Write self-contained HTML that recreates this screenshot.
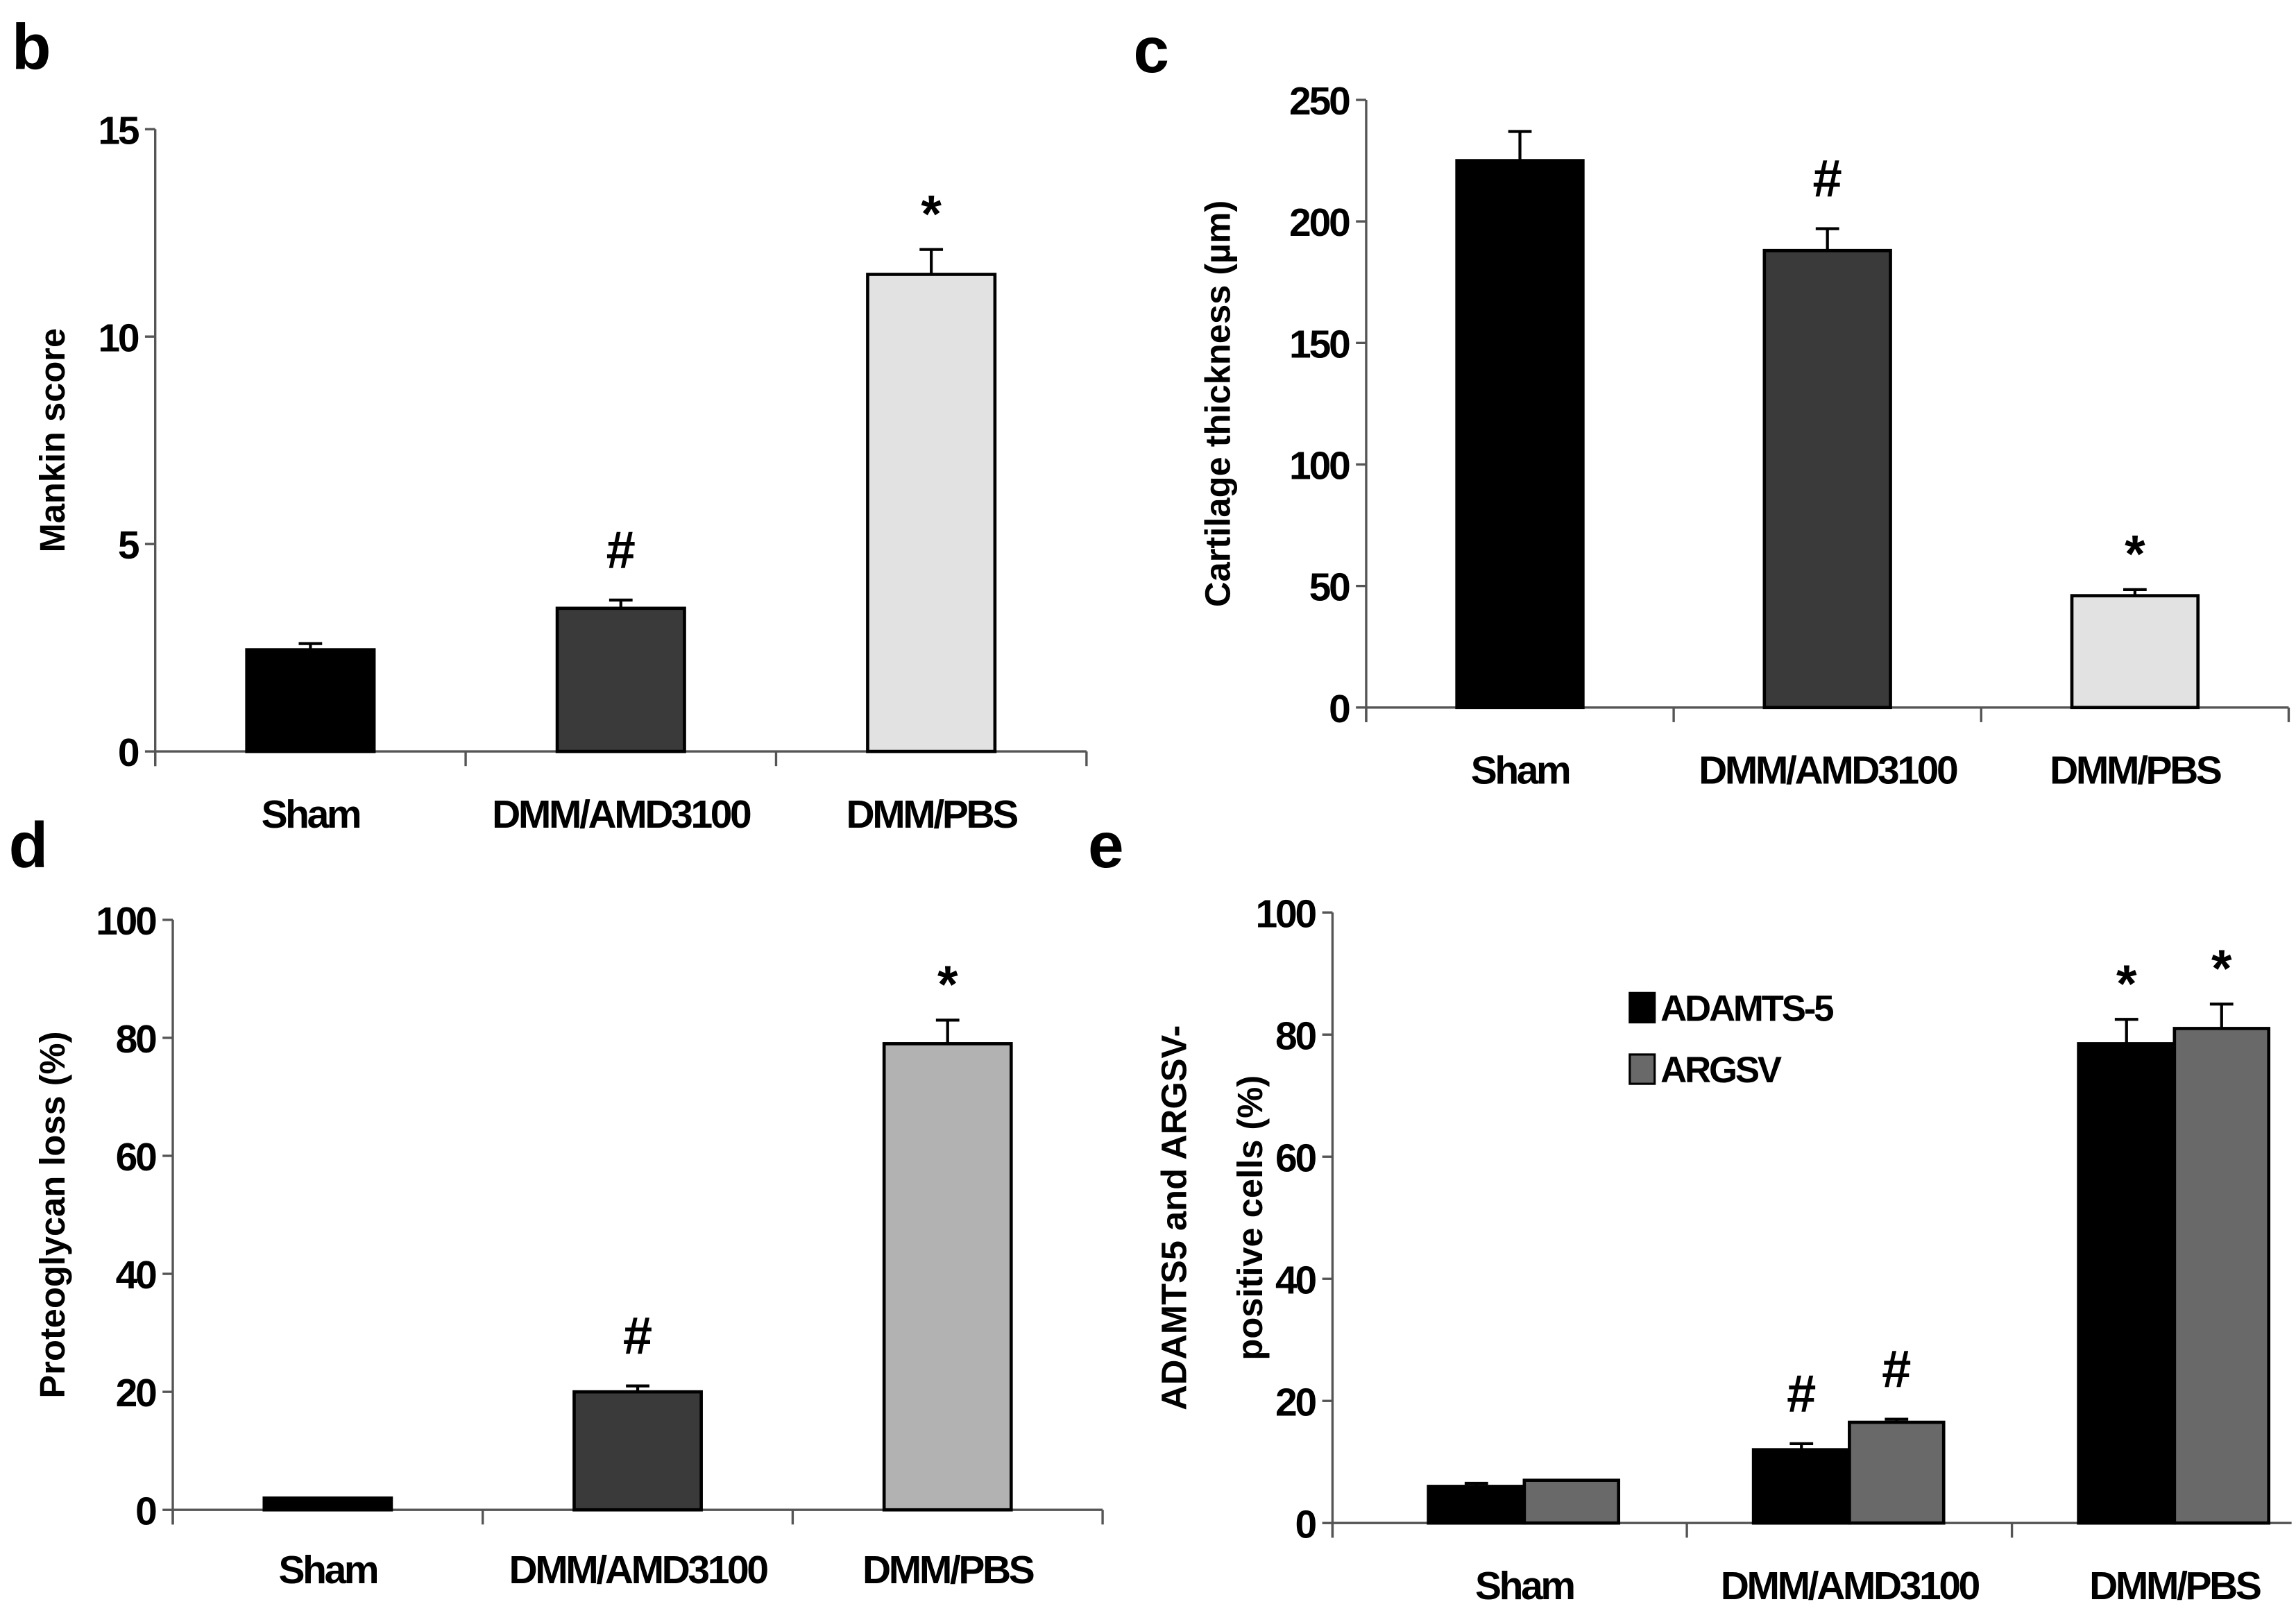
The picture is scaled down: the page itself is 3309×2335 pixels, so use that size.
<!DOCTYPE html>
<html><head><meta charset="utf-8">
<style>
html,body{margin:0;padding:0;background:#fff;}
svg{display:block;}
text{font-family:"Liberation Sans",Arial,sans-serif;font-weight:bold;fill:#000;}
</style></head>
<body>
<svg id="fig" width="3309" height="2335" viewBox="0 0 1568 1106" xmlns="http://www.w3.org/2000/svg">
<rect width="1568" height="1106" fill="#fff"/>
<text x="8" y="47" font-size="44">b</text>
<text x="774" y="49" font-size="44">c</text>
<text x="6" y="592" font-size="44">d</text>
<text x="743" y="592" font-size="44">e</text>
</svg>
<script>
const categories = ["Sham", "DMM/AMD3100", "DMM/PBS"];
const bValues = [2.45, 3.45, 11.5];
const bErrors = [0.15, 0.2, 0.6];
const bTicks = [0, 5, 10, 15];
const cValues = [225, 188, 46];
const cErrors = [12, 9, 2.5];
const cTicks = [0, 50, 100, 150, 200, 250];
const dValues = [2, 20, 79];
const dErrors = [0, 1, 4];
const dTicks = [0, 20, 40, 60, 80, 100];
const eAdamts = [6, 12, 78.5];
const eAdamtsErr = [0.5, 1, 4];
const eArgsv = [7, 16.5, 81];
const eArgsvErr = [0, 0.5, 4];
const eTicks = [0, 20, 40, 60, 80, 100];
const bMarks = ["", "#", "*"];
const cMarks = ["", "#", "*"];
const dMarks = ["", "#", "*"];
const eMarksA = ["", "#", "*"];
const eMarksB = ["", "#", "*"];

const svg = document.getElementById('fig');
const NS = 'http://www.w3.org/2000/svg';
function mk(tag, attrs, parent) {
  const el = document.createElementNS(NS, tag);
  for (const k in attrs) el.setAttribute(k, attrs[k]);
  (parent || svg).appendChild(el);
  return el;
}

function panel(cfg) {
  const g = mk('g', {});
  
  
  const max = cfg.ticks[cfg.ticks.length - 1];
  const y = v => cfg.y0 - (v / max) * (cfg.y0 - cfg.yTop);
  const band = (cfg.xEnd - cfg.x0) / categories.length;
  const shift = cfg.shift || 0;
  const axisEnd = cfg.axisEnd || cfg.xEnd;
  const ya = mk('line', {x1: cfg.x0, y1: cfg.yTop, x2: cfg.x0, y2: cfg.y0 + 10, stroke: '#555', 'stroke-width': 1.6}, g);
  
  
  const xa = mk('line', {x1: cfg.x0, y1: cfg.y0, x2: axisEnd, y2: cfg.y0, stroke: '#555', 'stroke-width': 1.6}, g);
  
  
  cfg.ticks.forEach(t => {
    mk('line', {x1: cfg.x0 - 7, y1: y(t), x2: cfg.x0, y2: y(t), stroke: '#555', 'stroke-width': 1.6}, g);
    const tl = mk('text', {x: cfg.x0 - 12, y: y(t) + 10, 'font-size': 27, 'text-anchor': 'end', 'letter-spacing': -1.5}, g);
    tl.textContent = t;
    
    
  });
  for (let i = 0; i <= categories.length; i++) {
    const tx = cfg.x0 + band * i + (i > 0 ? shift : 0);
    if (tx > axisEnd + 1) continue;
    mk('line', {x1: tx, y1: cfg.y0, x2: tx, y2: cfg.y0 + 10, stroke: '#555', 'stroke-width': 1.6}, g);
  }
  categories.forEach((c, i) => {
    const cl = mk('text', {x: cfg.x0 + band * (i + 0.5) + shift, y: cfg.labelY, 'font-size': 27, 'text-anchor': 'middle', 'letter-spacing': -1.6}, g);
    cl.textContent = c;
    
    
  });
  const tt = mk('text', {transform: `translate(${cfg.titleX},${(cfg.y0 + cfg.yTop) / 2}) rotate(-90)`, 'font-size': 24, 'text-anchor': 'middle'}, g);
  
  
  tt.textContent = cfg.title;
  if (cfg.title2) {
    const t2 = mk('text', {transform: `translate(${cfg.titleX + 52},${(cfg.y0 + cfg.yTop) / 2}) rotate(-90)`, 'font-size': 24, 'text-anchor': 'middle'}, g);
    t2.textContent = cfg.title2;
    
    
  }
  cfg.series.forEach((s) => {
    s.values.forEach((v, i) => {
      const bx = cfg.x0 + band * (i + 0.5) + shift + s.offset * band;
      const bw = s.width * band;
      const top = y(v);
      const e = s.errors[i];
      if (e > 0) {
        const eb = mk('line', {x1: bx + bw / 2, y1: top, x2: bx + bw / 2, y2: y(v + e), stroke: '#000', 'stroke-width': 2}, g);
        
        
        mk('line', {x1: bx + bw / 2 - 8, y1: y(v + e), x2: bx + bw / 2 + 8, y2: y(v + e), stroke: '#000', 'stroke-width': 2}, g);
      }
      const r = mk('rect', {x: bx, y: top, width: bw, height: cfg.y0 - top, fill: s.colors[i], stroke: '#000', 'stroke-width': 2.2}, g);
      
      
      const m = s.marks[i];
      if (m) {
        const mt = mk('text', {x: bx + bw / 2, y: y(v + e) - (m === '*' ? 12 : 22), 'font-size': 36, 'text-anchor': 'middle'}, g);
        mt.textContent = m;
        
        
      }
    });
  });
  return g;
}

panel({name: 'chart-b-mankin', x0: 106, xEnd: 742, y0: 513, yTop: 88, ticks: bTicks, labelY: 565, titleX: 44, title: 'Mankin score',
  series: [{key: 'mankin', values: bValues, errors: bErrors, marks: bMarks, offset: -0.205, width: 0.41, colors: ['#000', '#3a3a3a', '#e2e2e2']}]});
panel({name: 'chart-c-cartilage', x0: 933, xEnd: 1563, y0: 483, yTop: 68, ticks: cTicks, labelY: 535, titleX: 840, title: 'Cartilage thickness (µm)',
  series: [{key: 'thickness', values: cValues, errors: cErrors, marks: cMarks, offset: -0.205, width: 0.41, colors: ['#000', '#3a3a3a', '#e2e2e2']}]});
panel({name: 'chart-d-proteoglycan', x0: 118, xEnd: 753, y0: 1031, yTop: 628, ticks: dTicks, labelY: 1081, titleX: 44, title: 'Proteoglycan loss (%)',
  series: [{key: 'proteoglycan', values: dValues, errors: dErrors, marks: dMarks, offset: -0.205, width: 0.41, colors: ['#000', '#3a3a3a', '#b2b2b2']}]});
panel({name: 'chart-e-adamts', x0: 910, xEnd: 1576, axisEnd: 1565, shift: 20, y0: 1040, yTop: 623, ticks: eTicks, labelY: 1092, titleX: 810, title: 'ADAMTS5 and ARGSV-', title2: 'positive cells (%)',
  series: [
    {key: 'adamts5', values: eAdamts, errors: eAdamtsErr, marks: eMarksA, offset: -0.295, width: 0.295, colors: ['#000', '#000', '#000']},
    {key: 'argsv', values: eArgsv, errors: eArgsvErr, marks: eMarksB, offset: 0, width: 0.29, colors: ['#696969', '#696969', '#696969']}
  ]});

const lg = mk('g', {});


const l1 = mk('rect', {x: 1113, y: 678, width: 17, height: 20, fill: '#000', stroke: '#000', 'stroke-width': 1.5}, lg);


const lt1 = mk('text', {x: 1134, y: 697, 'font-size': 25, 'letter-spacing': -1.5}, lg);
lt1.textContent = 'ADAMTS-5';


const l2 = mk('rect', {x: 1113, y: 720, width: 17, height: 20, fill: '#696969', stroke: '#000', 'stroke-width': 1.5}, lg);


const lt2 = mk('text', {x: 1134, y: 739, 'font-size': 25, 'letter-spacing': -1.5}, lg);
lt2.textContent = 'ARGSV';


</script>
</body></html>
